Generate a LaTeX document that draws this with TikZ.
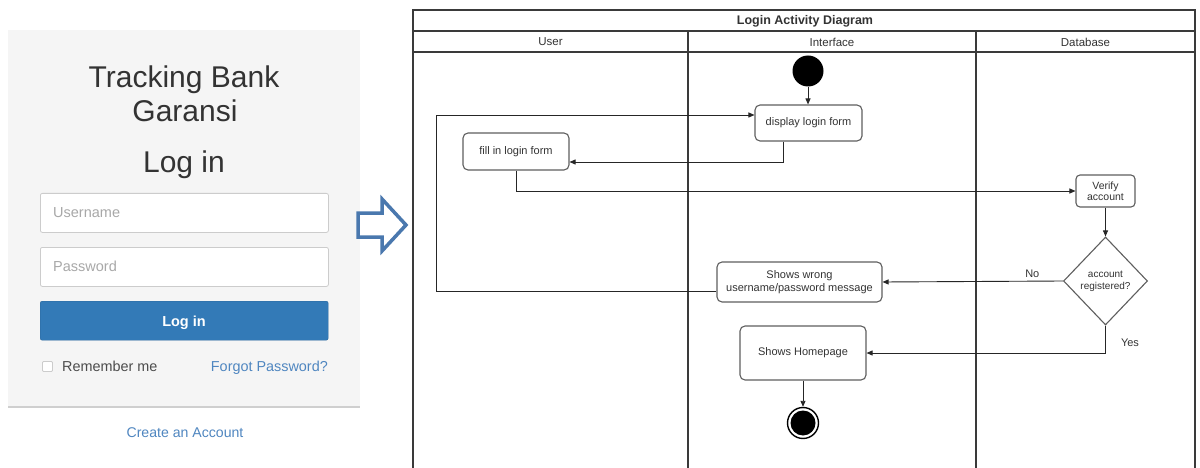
\documentclass[tikz,border=0pt]{standalone}
\usepackage{fontspec}
\setmainfont{Liberation Sans}
\usetikzlibrary{shapes.geometric,arrows.meta}
\definecolor{cardbg}{HTML}{F5F5F5}
\definecolor{cardline}{HTML}{CFCFCF}
\definecolor{fieldline}{HTML}{CCCCCC}
\definecolor{btnblue}{HTML}{337AB7}
\definecolor{linkblue}{HTML}{4F86C0}
\definecolor{arrowblue}{HTML}{4A78AE}
\definecolor{txtdark}{HTML}{333333}
\definecolor{placeholder}{HTML}{A8A8A8}
\definecolor{laneline}{HTML}{3A3A3A}
\definecolor{boxline}{HTML}{5E5E5E}
\tikzset{
  fs/.style={font=\fontsize{#1}{#1}\selectfont},
  field/.style={draw=fieldline, fill=white, rounded corners=2pt, line width=0.8pt, anchor=north west, minimum height=39pt, minimum width=288pt},
  plain/.style={inner sep=0pt, anchor=base},
  lanetxt/.style={inner sep=0pt, text=txtdark, fs=11.5},
  actbox/.style={draw=boxline, line width=1.1pt, rounded corners=5pt, fill=white, align=center, text=txtdark, font=\fontsize{11}{13}\selectfont, inner sep=2pt},
  flow/.style={draw=black!85, line width=0.9pt, -{Triangle[length=6pt,width=5pt]}},
  lane/.style={draw=laneline, line width=1.4pt},
}
\begin{document}
\begin{tikzpicture}[x=1pt,y=-1pt]
\useasboundingbox (0,0) rectangle (1200,468);
\fill[white] (0,0) rectangle (1200,468);

% ---------- login card ----------
\fill[cardbg] (8,30) rectangle (360,407);
\draw[cardline, line width=1.5pt] (8,407) -- (360,407);
\node[plain, text=txtdark, fs=30] (t1) at (184,88) {Tracking Bank};
\node[plain, text=txtdark, fs=30] (t2) at (185,122) {Garansi};
\node[plain, text=txtdark, fs=30] (t3) at (184,172) {Log in};
\node[field] (ufield) at (40,193) {};
\node[field] (pfield) at (40,247) {};
\node[plain, anchor=base west, text=placeholder, fs=14.5] (uph) at (53,217) {Username};
\node[plain, anchor=base west, text=placeholder, fs=14.5] (pph) at (53,271) {Password};
\node[draw=btnblue!85!black, fill=btnblue, rounded corners=2pt, anchor=north west, minimum height=39pt, minimum width=288pt] (btn) at (40,301) {};
\node[plain, text=white, font=\fontsize{14.5}{14.5}\selectfont\bfseries] (btntxt) at (184,326) {Log in};
\node[draw=fieldline, fill=white, rounded corners=1pt, minimum size=10pt, inner sep=0pt, line width=0.8pt] (chk) at (47.5,366.5) {};
\node[plain, anchor=base west, text=black!70, fs=14.4] (rem) at (62,371) {Remember me};
\node[plain, anchor=base east, text=linkblue, fs=14.4] (forgot) at (328,371) {Forgot Password?};
\node[plain, text=linkblue, fs=14.1] (create) at (185,437) {Create an Account};

% ---------- block arrow ----------
\draw[arrowblue, line width=3.5pt, fill=white, line join=miter]
  (358,213) -- (382,213) -- (382,199) -- (406,225) -- (382,251) -- (382,237) -- (358,237) -- cycle;

% ---------- activity diagram frame ----------
\draw[lane] (413,10) rectangle (1195,480);
\draw[lane] (413,31) -- (1195,31);
\draw[lane] (413,52) -- (1195,52);
\draw[lane] (688,31) -- (688,480);
\draw[lane] (976,31) -- (976,480);
\node[inner sep=0pt, text=txtdark, font=\fontsize{12.5}{12.5}\selectfont\bfseries] (title) at (805,21) {Login Activity Diagram};
\node[lanetxt] (hUser) at (550.5,42) {User};
\node[lanetxt] (hIface) at (832,42) {Interface};
\node[lanetxt] (hDb) at (1085.5,42) {Database};

% ---------- activity nodes ----------
\node[circle, fill=black, minimum size=31pt, inner sep=0pt] (start) at (808,71) {};
\node[actbox, minimum width=107pt, minimum height=36pt] (display) at (808.5,123) {display login form};
\node[actbox, minimum width=106pt, minimum height=37pt] (fill) at (516,151.5) {fill in login form};
\node[actbox, minimum width=59pt, minimum height=32pt, rounded corners=4pt, font=\fontsize{10.5}{11.5}\selectfont] (verify) at (1105.5,191) {Verify\\account};
\node[diamond, draw=boxline, line width=1.1pt, fill=white, minimum width=84pt, minimum height=88pt, inner sep=0pt, align=center, text=txtdark, font=\fontsize{10}{12}\selectfont] (decision) at (1105.5,281) {account\\registered?};
\node[actbox, minimum width=165pt, minimum height=40pt] (wrong) at (799.5,282) {Shows wrong\\username/password message};
\node[actbox, minimum width=126pt, minimum height=54pt] (home) at (803,353) {Shows Homepage};
\node[circle, draw=black, line width=1.4pt, fill=white, minimum size=31pt, inner sep=0pt] (end) at (803,423) {};
\fill[black] (end.center) circle (12.5);

% ---------- connectors ----------
\coordinate (loopx) at (436,115);
\draw[flow] (start.south) -- (start.south |- display.north);
\draw[flow] ([xshift=-25.5pt]display.south) |- ([yshift=-10.5pt]fill.east);
\draw[flow] (fill.south) |- (verify.west);
\draw[flow] (verify.south) -- (decision.north);
\draw[flow] (decision.west) -- (wrong.east) node[pos=0.17, above=3pt, inner sep=0pt, text=txtdark, font=\fontsize{11}{11}\selectfont] (nolbl) {No};
\draw[flow] (decision.south) |- (home.east);
\node[inner sep=0pt, text=txtdark, font=\fontsize{11}{11}\selectfont] (yeslbl) at (1130,343) {Yes};
\draw[flow] ([yshift=-9pt]wrong.west) -| (loopx) -- (loopx -| display.west);
\draw[flow] (home.south) -- (end.north);
\end{tikzpicture}
\end{document}
